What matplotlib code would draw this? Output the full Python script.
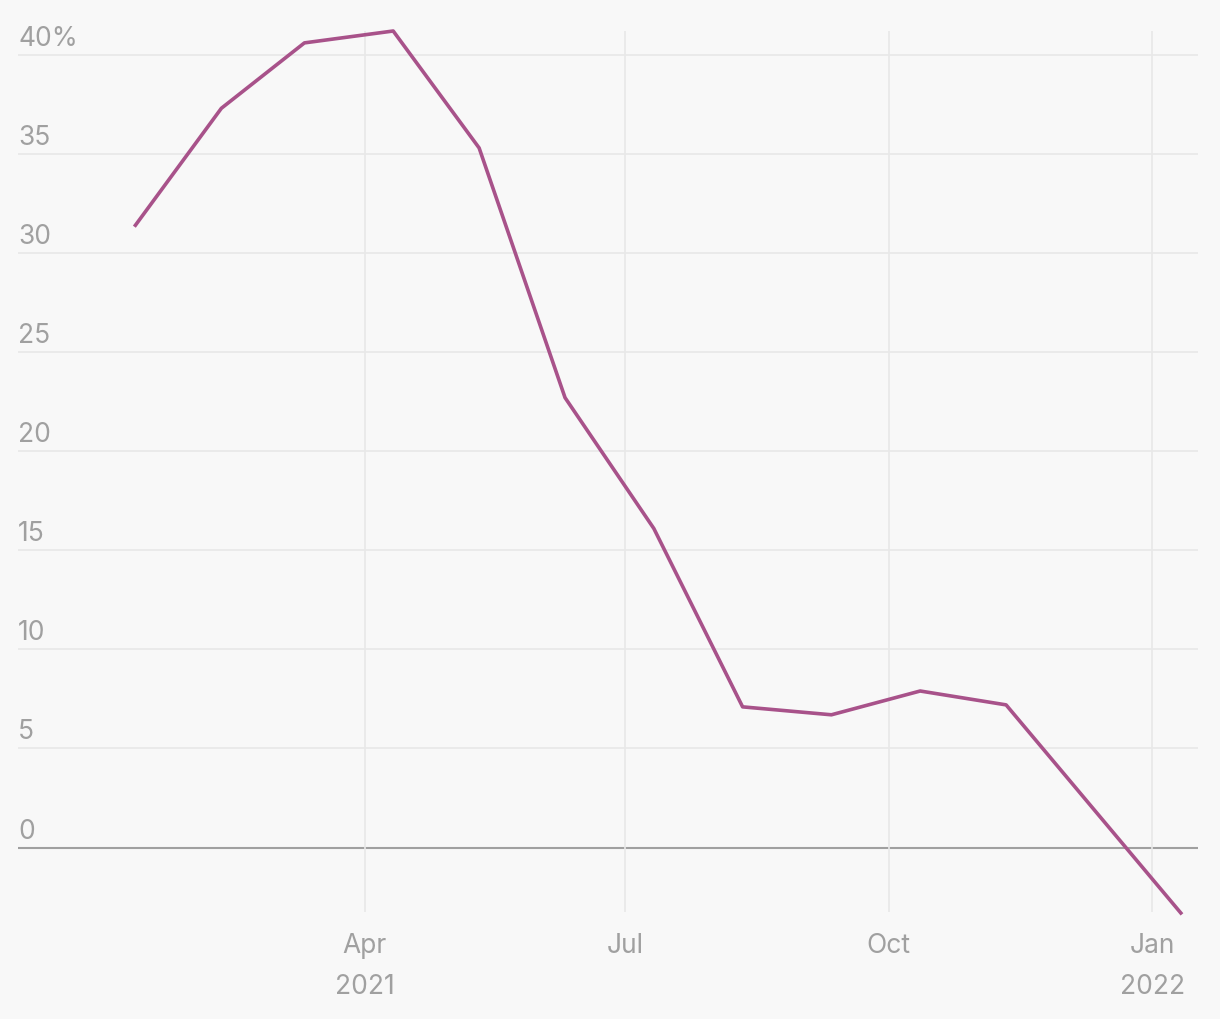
import numpy as np
import pandas as pd
import matplotlib.pyplot as plt
import matplotlib.dates as mdates

# Data
dates = pd.to_datetime([
    "2021-01-11", "2021-02-10", "2021-03-11", "2021-04-11", "2021-05-11",
    "2021-06-10", "2021-07-11", "2021-08-11", "2021-09-11", "2021-10-12",
    "2021-11-11", "2022-01-11",
])
values = [31.4, 37.3, 40.6, 41.2, 35.3, 22.7, 16.1, 7.1, 6.7, 7.9, 7.2, -3.3]

y_ticks = [0, 5, 10, 15, 20, 25, 30, 35, 40]
y_labels = ["0", "5", "10", "15", "20", "25", "30", "35", "40%"]
x_ticks = pd.to_datetime(["2021-04-01", "2021-07-01", "2021-10-01", "2022-01-01"])
x_labels = ["Apr\n2021", "Jul", "Oct", "Jan\n2022"]

bg = "#f8f8f8"
grey = "#a0a0a0"
grid = "#e8e8e8"
line_col = "#a8528a"

plt.rcParams['font.family'] = ['Inter', 'DejaVu Sans']

fig = plt.figure(figsize=(12.2, 10.2), dpi=100, facecolor=bg)
ax = fig.add_axes([18 / 1220, (1020 - 913) / 1020, 1180 / 1220, 881 / 1020])
ax.set_facecolor(bg)

# grid lines
for y in y_ticks:
    ax.axhline(y, color=grey if y == 0 else grid, lw=1.5 if y == 0 else 1.2, zorder=1)
for x in x_ticks:
    ax.axvline(x, color=grid, lw=1.2, zorder=1)

ax.plot(dates, values, color=line_col, lw=2.6, zorder=3, clip_on=False)

ax.set_xlim(pd.Timestamp("2020-12-01"), pd.Timestamp("2022-01-17"))
ax.set_ylim(-3.25, 41.2)

for s in ax.spines.values():
    s.set_visible(False)
ax.set_xticks([])
ax.set_yticks([])

# y labels inside the plot, above the gridlines
for y, lab in zip(y_ticks, y_labels):
    ax.annotate(lab, xy=(0, y), xycoords=('axes fraction', 'data'),
                xytext=(0, 4), textcoords='offset pixels',
                ha='left', va='bottom', fontsize=19, color=grey)

# x labels below the plot
for x, lab in zip(x_ticks, x_labels):
    ax.annotate(lab, xy=(x, 0), xycoords=('data', 'axes fraction'),
                xytext=(0, -20), textcoords='offset pixels',
                ha='center', va='top', fontsize=19, color=grey,
                linespacing=1.75)

fig.savefig("out.png", dpi=100, facecolor=bg)
